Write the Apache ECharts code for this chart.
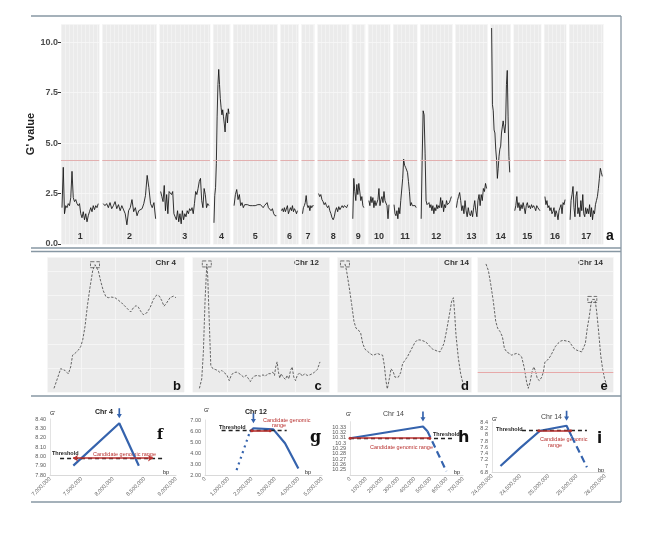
<!DOCTYPE html>
<html><head><meta charset="utf-8">
<script src="https://cdn.jsdelivr.net/npm/echarts@6/dist/echarts.min.js"></script>
<style>html,body{margin:0;padding:0;background:#fff}#c{width:669px;height:537px}</style>
</head><body><div id="c"></div>
<script>
// ---------- Panel a: genome-wide G' ----------
const chrNames = ['1','2','3','4','5','6','7','8','9','10','11','12','13','14','15','16','17'];
const chrLengths = [38,54,50,17,44,18,13,31,13,22,24,32,32,20,27,22,34];
const gThreshold = 4.16;
const chr1 = [1.8,3.8,1.5,1.9,1.8,2.0,1.9,2.3,3.6,2.3,2.1,2.2,2.0,1.9,2.0,1.5,1.3,1.6,1.2,1.5,1.1,1.4,1.6,1.8,1.6,1.9,1.7,1.9,1.8,2.0];
const chr2 = [2.0,1.9,2.0,1.8,2.05,1.75,1.9,2.1,1.75,1.95,1.65,1.9,1.95,1.5,0.95,1.65,1.8,2.2,1.6,1.8,1.4,1.65,1.6,1.75,2.0,2.4,3.4,2.8,2.0,1.8,2.05,1.25];
const chr3 = [2.6,2.35,2.1,2.9,1.65,2.45,1.5,2.6,2.6,2.45,2.6,1.5,1.35,1.2,1.65,1.1,1.5,1.0,1.65,1.2,1.5,1.35,1.65,1.5,1.75,1.65,1.8,1.5,2.0,2.6,2.45,2.75,3.1,3.25,2.15,1.8,2.75,2.45,1.8,2.0,1.9];
const chr4 = [1.05,2.4,2.8,4.0,6.3,7.9,8.65,7.9,7.2,6.75,6.4,6.65,6.3,5.95,5.55,6.3,6.5,6.0,6.7,6.45];
const chr5 = [1.9,2.45,2.7,2.2,2.45,1.9,2.05,1.8,1.95,1.9,1.95,1.95,1.9,1.95,1.9,1.95,1.9,1.95,1.95,1.9,1.95,1.95,1.8,1.9,1.9,2.05,1.8,1.8,1.65,1.75,1.5,1.4,1.4];
const chr6 = [1.65,1.75,1.6,1.8,1.6,1.65,1.9,1.5,1.65,1.8,1.65,1.9,1.6,1.75,1.65,1.5,1.65];
const chr7 = [1.5,1.8,1.9,2.05,2.4,1.95,1.8,1.9,1.65,1.9,1.8,1.9,1.9];
const chr8 = [2.5,2.35,2.45,2.2,2.1,1.95,2.05,1.9,1.8,1.9,1.65,1.5,1.3,1.2,1.35,1.65,1.8,1.6,1.85,1.7,1.8,1.9,1.8,1.9,1.95,1.8,1.95];
const chr9 = [1.25,3.25,2.6,2.15,2.95,2.45,3.0,2.95,2.15,2.35,1.9,1.8];
const chr10 = [2.15,1.9,2.35,2.05,2.3,1.8,2.15,1.9,1.95,2.2,2.75,1.9,2.2,2.35,2.05,2.6,2.15,2.2,1.9,1.25,1.95];
const chr11 = [1.95,1.5,1.4,1.65,1.25,1.8,1.5,2.15,2.2,3.25,4.2,3.9,3.8,3.8,3.55,3.1,2.6,1.9,2.05,1.9,1.95,1.85,1.9,1.8];
const chr12 = [1.25,4.2,6.6,6.4,4.5,2.15,1.95,1.9,2.05,1.8,1.95,1.65,1.9,1.5,1.8,1.65,1.95,1.75,1.9,1.8,2.3,1.8,2.15,1.6,1.95,1.8,2.15,1.95,1.9,2.05,2.2,2.35];
const chr13 = [1.8,2.15,2.35,2.55,2.15,1.65,1.9,1.5,2.15,1.65,1.35,1.8,1.5,1.4,1.65,1.35,1.8,2.15,1.65,1.35,2.15,2.45,1.9,2.45,2.15,2.75,2.6,3.0,2.75];
const chr14 = [10.7,6.9,6.6,5.65,5.5,4.7,4.2,3.25,3.75,4.35,4.7,4.85,5.5,5.8,6.1,6.1,5.5,5.95,7.9,8.6,6.3,4.35,3.55];
const chr15 = [1.65,1.9,2.35,1.8,2.05,1.65,1.95,1.75,2.05,1.8,1.5,1.9,2.05,1.8,1.9,1.75,1.95,1.8,1.9,1.8,1.65,1.9,1.8,1.75,1.65];
const chr16 = [2.35,1.95,2.15,1.8,1.9,1.65,1.8,1.5,1.6,1.8,1.35,1.65,1.5,1.2,1.65,1.8,1.95,1.5,2.05,1.95,2.2];
const chr17 = [1.2,2.15,2.45,2.85,1.8,1.35,2.35,2.6,1.5,1.8,1.35,2.15,1.65,2.45,1.5,1.35,1.8,1.5,1.75,1.5,1.95,1.35,1.8,1.2,1.65,1.5,1.95,2.15,2.35,2.75,3.25,3.75,3.55,3.35];
const chrValues = [chr1,chr2,chr3,chr4,chr5,chr6,chr7,chr8,chr9,chr10,chr11,chr12,chr13,chr14,chr15,chr16,chr17];

// ---------- Panels b-e: zoomed G' curves (position %, G') ----------
const bChr4 = [[4.9,1.44],[7.3,1.93],[9.8,2.46],[11.2,2.55],[12.9,2.37],[15.4,2.19],[17.1,2.55],[18.5,3.16],[20.2,3.25],[22.7,3.42],[24.4,3.60],[25.9,3.95],[27.6,4.65],[29.3,5.70],[31.2,6.66],[33.2,7.54],[34.9,7.85],[36.1,7.80],[37.3,7.54],[39.0,7.01],[41.0,6.49],[42.9,6.19],[44.6,6.14],[47.1,6.17],[49.5,6.14],[52.0,6.01],[54.4,5.87],[56.8,5.70],[59.3,5.52],[61.0,5.40],[62.9,5.61],[64.9,5.73],[66.6,5.65],[68.3,5.44],[70.2,5.26],[72.7,5.35],[75.1,5.61],[77.6,6.05],[80.0,6.28],[82.0,6.22],[83.7,5.99],[85.4,5.70],[87.3,5.87],[89.8,6.14],[92.2,6.22],[94.1,6.14]];
const cChr12 = [[4.9,1.44],[6.6,1.93],[7.8,3.33],[9.0,5.96],[10.3,7.89],[11.0,7.19],[12.0,5.09],[13.2,2.63],[14.7,2.46],[16.4,2.42],[18.1,2.37],[19.6,2.28],[21.3,2.37],[23.0,2.25],[24.9,2.14],[26.7,1.84],[28.1,2.11],[29.8,2.25],[31.8,2.28],[33.5,2.23],[35.2,2.14],[37.2,2.02],[39.1,2.11],[40.8,1.93],[42.1,1.79],[43.5,1.97],[45.0,2.07],[46.9,2.11],[49.4,2.07],[51.3,2.14],[53.1,2.07],[54.8,2.20],[56.7,2.20],[58.4,2.28],[59.7,2.11],[60.6,2.55],[61.6,2.81],[62.6,2.28],[63.6,1.97],[64.5,2.20],[66.0,2.02],[67.7,1.90],[68.9,2.11],[70.2,1.93],[71.4,2.37],[72.6,2.55],[73.8,2.02],[75.1,1.84],[76.3,2.11],[78.2,2.25],[80.0,2.07],[81.7,2.20],[83.6,2.11],[85.6,2.14],[87.3,2.20],[89.0,2.28],[91.0,2.42],[92.9,2.81]];
const dChr14 = [[5.7,7.89],[6.9,7.54],[8.9,6.66],[10.7,5.79],[12.4,4.91],[13.9,4.56],[15.6,4.47],[17.4,4.30],[18.9,3.77],[20.6,3.47],[22.3,3.37],[24.3,3.25],[26.3,3.16],[28.0,3.19],[29.8,3.25],[31.8,3.19],[33.7,3.16],[35.0,2.63],[36.2,1.84],[37.2,1.41],[38.7,1.93],[40.0,2.46],[40.7,2.55],[41.7,2.28],[42.9,2.02],[44.2,1.93],[45.4,2.02],[47.1,2.25],[48.6,2.72],[50.4,2.90],[52.1,3.07],[54.1,3.33],[56.1,3.60],[57.8,3.82],[59.6,3.95],[61.5,3.95],[63.5,3.91],[65.3,3.86],[67.0,3.77],[69.0,3.60],[71.0,3.47],[72.7,3.42],[74.4,3.37],[76.4,3.33],[77.7,3.51],[79.4,3.77],[81.4,4.47],[83.4,5.26],[85.1,5.96],[86.4,6.14],[87.3,5.35],[88.3,4.21],[90.1,2.98],[91.8,2.19],[93.3,1.76],[95.0,1.58]];
const eChr14 = [[6.1,7.89],[7.9,7.54],[9.6,6.84],[11.5,5.96],[13.3,4.91],[14.7,4.56],[16.5,4.38],[18.2,4.12],[19.7,3.51],[21.4,3.33],[23.3,3.25],[25.1,3.16],[26.8,3.21],[28.7,3.25],[30.7,3.19],[32.4,3.07],[34.2,2.55],[36.1,1.76],[37.3,1.44],[38.6,1.76],[40.3,2.37],[41.5,2.55],[42.8,2.28],[44.0,1.93],[45.5,1.84],[47.2,2.02],[48.4,2.28],[49.6,2.81],[51.4,2.90],[53.3,3.07],[55.3,3.33],[57.2,3.60],[59.2,3.77],[61.2,3.89],[63.1,3.93],[65.6,3.89],[67.6,3.86],[69.3,3.68],[71.0,3.51],[73.0,3.42],[74.9,3.37],[76.7,3.33],[77.9,3.42],[79.4,3.77],[80.8,4.56],[82.3,5.17],[83.5,5.79],[84.5,6.05],[85.3,5.96],[86.5,6.05],[87.7,5.44],[89.2,4.38],[90.7,3.16],[92.1,2.46],[93.6,1.93],[95.1,1.62]];
const zoomCurves = [bChr4, cChr12, dChr14, eChr14];
const zoomTitles = ['Chr 4','Chr 12','Chr 14','Chr 14'];
const zoomLetters = ['b','c','d','e'];
const zoomPeakWindow = [[0,100],[0,100],[0,100],[70,100]];
const eThreshold = 2.25;

// ---------- Panels f-i: candidate ranges ----------
const fLine = [[7370000,7.90],[8100000,8.355],[8410000,7.90]];
const fRange = [7365000, 8635000, 7.98];
const fThresh = [7160000, 8780000, 7.975];
const gLineDot = [[1350000,2.45],[1920000,5.94]];
const gLine = [[1920000,5.94],[2070000,6.25],[2920000,6.15],[3420000,4.88],[3990000,2.6]];
const gRange = [2000000, 2780000, 6.03];
const gThresh = [710000, 3490000, 6.1];
const hLine = [[0,10.309],[452000,10.331],[480000,10.322]];
const hLineDash = [[480000,10.322],[597000,10.247]];
const hRange = [0, 494000, 10.309];
const hThresh = [0, 640000, 10.309];
const iLine = [[24150000,7.0],[24500000,7.58],[24850000,8.13],[25320000,8.29],[25410000,7.95]];
const iLineDash = [[25410000,7.95],[25680000,6.96]];
const iRange = [24830000, 25390000, 8.13];
const iThresh = [24530000, 25680000, 8.15];

const blue = '#3563ad', red = '#b8312f';
const fmtComma = v => Math.round(v).toLocaleString('en-US');

const grids=[], xAxes=[], yAxes=[], series=[], graphic=[];
// ---- panel a layout ----
const A_LEFT=61, A_RIGHT=603.3, A_TOP=24, A_BOTTOM=244, A_GAP=3;
const totalLen = chrLengths.reduce((a,b)=>a+b,0);
const ppu = (A_RIGHT-A_LEFT-A_GAP*(chrLengths.length-1))/totalLen;
let cur = A_LEFT;
chrLengths.forEach((len,i)=>{
  const w = len*ppu;
  grids.push({left:cur, top:A_TOP, width:w, height:A_BOTTOM-A_TOP, show:true, backgroundColor:'#ebebeb', borderWidth:0});
  cur += w + A_GAP;
  xAxes.push({gridIndex:i, type:'value', min:0, max:len, interval:4,
    axisLine:{show:false}, axisTick:{show:false}, axisLabel:{show:false},
    splitLine:{show:true, lineStyle:{color:'#f6f6f6', width:0.6}},
    name:chrNames[i], nameLocation:'middle', nameGap:-12,
    nameTextStyle:{color:'#333', fontSize:9, fontWeight:'bold', fontFamily:'Liberation Sans'}});
  yAxes.push({gridIndex:i, type:'value', min:0, max:10.9, interval:2.5,
    axisLine:{show:false}, axisTick:{show:i===0, length:3, lineStyle:{color:'#333'}},
    axisLabel:{show:i===0, showMaxLabel:false, fontSize:9, color:'#4d4d4d', margin:3, fontWeight:'bold', fontFamily:'Liberation Sans', formatter:v=>v.toFixed(1)},
    splitLine:{show:true, lineStyle:{color:'#f8f8f8', width:0.8}},
    name: i===0 ? "G' value" : '', nameLocation:'middle', nameGap:18,
    nameTextStyle:{fontSize:11, fontWeight:'bold', color:'#222', fontFamily:'Liberation Sans'}});
  const vals = chrValues[i], pad = 1;
  series.push({type:'line', xAxisIndex:i, yAxisIndex:i, symbol:'none', silent:true,
    data: vals.map((v,j)=>[pad + j*(len-2*pad)/(vals.length-1), v]),
    lineStyle:{color:'#111', width:0.85},
    markLine:{silent:true, symbol:'none', label:{show:false}, lineStyle:{color:'#e2b0b0', type:'solid', width:1}, data:[{yAxis:gThreshold}]}});
});

// ---- panels b-e ----
const zoomBoxes = [[47.3,136.7],[192.7,137],[337.3,134.4],[477.7,135.6]];
const zoomTitleRight = [176, 319, 469, 603];
const zoomLetterX = [177, 318, 465, 604];
zoomCurves.forEach((curve,k)=>{
  const gi = grids.length;
  grids.push({left:zoomBoxes[k][0], top:257, width:zoomBoxes[k][1], height:135, show:true, backgroundColor:'#ebebeb', borderWidth:0});
  xAxes.push({gridIndex:gi, type:'value', min:0, max:100, interval:25, axisLine:{show:false}, axisTick:{show:false}, axisLabel:{show:false}, splitLine:{show:true, lineStyle:{color:'#f8f8f8', width:0.8}}});
  yAxes.push({gridIndex:gi, type:'value', min:1.25, max:8.25, interval:1.25, axisLine:{show:false}, axisTick:{show:false}, axisLabel:{show:false}, splitLine:{show:true, lineStyle:{color:'#f8f8f8', width:0.8}}});
  const win = zoomPeakWindow[k];
  let pk = null;
  curve.forEach(p=>{ if(p[0]>=win[0] && p[0]<=win[1] && (!pk || p[1]>pk[1])) pk=p; });
  const s = {type:'line', xAxisIndex:gi, yAxisIndex:gi, symbol:'none', silent:true, data:curve,
    lineStyle:{color:'#555', width:0.9, type:[2.5,1.5]},
    markPoint:{silent:true, symbol:'rect', symbolSize:[9,6], label:{show:false},
      itemStyle:{color:'rgba(0,0,0,0)', borderColor:'#555', borderWidth:0.8, borderType:'dashed'},
      data:[{coord:pk}]}};
  if (k===3) s.markLine = {silent:true, symbol:'none', label:{show:false}, lineStyle:{color:'#e7a9a9', type:'solid', width:1}, data:[{yAxis:eThreshold}]};
  series.push(s);
  graphic.push({type:'text', x:zoomTitleRight[k], y:263, style:{text:zoomTitles[k], font:'bold 8px "Liberation Sans"', fill:'#333', align:'right', verticalAlign:'middle'}});
  graphic.push({type:'text', x:zoomLetterX[k], y:386, style:{text:zoomLetters[k], font:'bold 13px "Liberation Sans"', fill:'#111', align:'center', verticalAlign:'middle'}});
});

// ---- panels f-i ----
const excelPanels = [
  {left:50, top:419, width:126, height:56, xmin:7000000, xmax:9000000, xint:500000, ymin:7.8, ymax:8.4, yint:0.1, yfmt:v=>v.toFixed(2),
   solid:fLine, dash:null, dot:null, range:fRange, thresh:fThresh, arrowEnds:true},
  {left:205, top:420, width:117, height:55, xmin:0, xmax:5000000, xint:1000000, ymin:2, ymax:7, yint:1, yfmt:v=>v.toFixed(2),
   solid:gLine, dash:null, dot:gLineDot, range:gRange, thresh:gThresh, arrowEnds:false},
  {left:350, top:421.7, width:113, height:53.3, xmin:0, xmax:700000, xint:100000, ymin:10.24, ymax:10.34, yint:0.01, yfmt:v=>String(parseFloat(v.toFixed(2))),
   solid:hLine, dash:hLineDash, dot:null, range:hRange, thresh:hThresh, arrowEnds:false},
  {left:492, top:422.3, width:113, height:50, xmin:24000000, xmax:26000000, xint:500000, ymin:6.8, ymax:8.4, yint:0.2, yfmt:v=>String(parseFloat(v.toFixed(1))),
   solid:iLine, dash:iLineDash, dot:null, range:iRange, thresh:iThresh, arrowEnds:false}
];
excelPanels.forEach((p,k)=>{
  const gi = grids.length;
  grids.push({left:p.left, top:p.top, width:p.width, height:p.height, show:false});
  xAxes.push({gridIndex:gi, type:'value', min:p.xmin, max:p.xmax, interval:p.xint,
    axisLine:{show:true, lineStyle:{color:'#d9d9d9', width:1}}, axisTick:{show:false}, splitLine:{show:false},
    axisLabel:{rotate:45, fontSize:5.5, color:'#595959', margin:3, formatter:fmtComma, fontFamily:'Liberation Sans', showMinLabel:true, showMaxLabel:true}});
  yAxes.push({gridIndex:gi, type:'value', min:p.ymin, max:p.ymax, interval:p.yint,
    axisLine:{show:true, lineStyle:{color:'#e3e3e3', width:1}}, axisTick:{show:false}, splitLine:{show:false},
    axisLabel:{fontSize:5.5, color:'#595959', margin:4, formatter:p.yfmt, fontFamily:'Liberation Sans'}});
  let pk = p.solid[0];
  p.solid.forEach(q=>{ if(q[1]>pk[1]) pk=q; });
  series.push({type:'line', xAxisIndex:gi, yAxisIndex:gi, symbol:'none', silent:true, data:p.solid, z:3,
    lineStyle:{color:blue, width:2.2},
    markPoint:{silent:true, symbol:'path://M2,0 L4,0 L4,7 L6,7 L3,12 L0,7 L2,7 Z', symbolSize:[5,10], symbolOffset:[0,-10],
      itemStyle:{color:blue}, label:{show:false}, data:[{coord:pk}]},
    markLine:{silent:true, label:{show:false}, animation:false, data:[
      [{coord:[p.thresh[0],p.thresh[2]], symbol:'none', lineStyle:{color:'#222', type:[4,3], width:1.3}},{coord:[p.thresh[1],p.thresh[2]], symbol:'none'}],
      [{coord:[p.range[0],p.range[2]], symbol:p.arrowEnds?'arrow':'circle', symbolSize:p.arrowEnds?5:3, lineStyle:{color:red, type:'solid', width:1.6}},
       {coord:[p.range[1],p.range[2]], symbol:p.arrowEnds?'arrow':'circle', symbolSize:p.arrowEnds?5:3}]
    ]}});
  if (p.dash) series.push({type:'line', xAxisIndex:gi, yAxisIndex:gi, symbol:'none', silent:true, data:p.dash, z:3, lineStyle:{color:blue, width:2.2, type:[7,4]}});
  if (p.dot) series.push({type:'line', xAxisIndex:gi, yAxisIndex:gi, symbol:'none', silent:true, data:p.dot, z:3, lineStyle:{color:blue, width:2.2, type:[2,4]}});
});

// ---- texts for f-i ----
const T = (x,y,t,font,fill)=>graphic.push({type:'text', left:x, top:y, style:{text:t, font:font, fill:fill||'#222'}});
const small = '5.5px "Liberation Sans"', smallB = 'bold 5.5px "Liberation Sans"';
T(50,410,"G'",small); T(204,407,"G'",small); T(346,411,"G'",small); T(492,416,"G'",small);
T(95,409,'Chr 4','bold 7px "Liberation Sans"'); T(245,409,'Chr 12','bold 7px "Liberation Sans"');
T(383,411,'Chr 14','7px "Liberation Sans"','#444'); T(541,414,'Chr 14','7px "Liberation Sans"','#444');
T(52,450,'Threshold',smallB); T(219,424,'Threshold',smallB); T(433,431,'Threshold',smallB); T(496,426,'Threshold',smallB);
T(93,451,'Candidate genomic range',small,red); T(263,417,'Candidate genomic',small,red); T(272,422,'range',small,red);
T(370,444,'Candidate genomic range',small,red); T(540,436,'Candidate genomic',small,red); T(548,442,'range',small,red);
T(157,428,'f','bold 14px "DejaVu Serif"','#111'); T(310,430,'g','bold 16px "DejaVu Serif"','#111');
T(458,430,'h','bold 16px "DejaVu Sans"','#111'); T(597,432,'i','bold 15px "DejaVu Sans"','#111');
T(163,469,'bp',small); T(305,469,'bp',small); T(454,469,'bp',small); T(598,467,'bp',small);
T(606,229,'a','bold 14px "Liberation Sans"','#111');

// ---- frame lines ----
const frame = '#8797a3';
const L = (x1,y1,x2,y2)=>graphic.push({type:'line', shape:{x1,y1,x2,y2}, style:{stroke:frame, lineWidth:1.3}, silent:true});
L(31,16,621,16); L(31,248,621,248); L(31,251.5,621,251.5); L(31,396,621,396); L(31,502,621,502); L(621,16,621,502);

const chart = echarts.init(document.getElementById('c'));
chart.setOption({animation:false, backgroundColor:'#fff', grid:grids, xAxis:xAxes, yAxis:yAxes, series:series, graphic:graphic});
</script></body></html>
